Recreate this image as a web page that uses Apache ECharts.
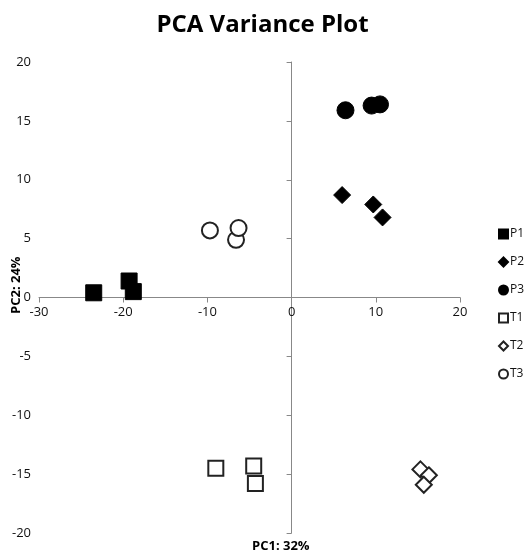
<!DOCTYPE html>
<html>
<head>
<meta charset="utf-8">
<script src="https://cdn.jsdelivr.net/npm/echarts@6/dist/echarts.min.js"></script>
<style>
  html, body { margin: 0; padding: 0; background: #fff; }
</style>
</head>
<body>
<div id="main" style="width: 525px; height: 559px"></div>
<script>
// PCA scores, [PC1, PC2]
const p1 = [[-23.5, 0.4], [-19.3, 1.4], [-18.8, 0.5]]
const p2 = [[6.0, 8.7], [9.7, 7.9], [10.8, 6.8]]
const p3 = [[6.4, 15.9], [9.5, 16.3], [10.5, 16.4]]
const t1 = [[-9.0, -14.5], [-4.5, -14.3], [-4.3, -15.8]]
const t2 = [[15.3, -14.6], [16.3, -15.1], [15.7, -15.9]]
const t3 = [[-9.7, 5.7], [-6.6, 4.9], [-6.3, 5.9]]

const seriesNames = ['P1', 'P2', 'P3', 'T1', 'T2', 'T3']
const seriesData = [p1, p2, p3, t1, t2, t3]

const xMin = -30, xMax = 20, xStep = 10
const yMin = -20, yMax = 20, yStep = 5

const symbols = ['rect', 'diamond', 'circle', 'rect', 'diamond', 'circle']
const sizes = [16, 17, 17, 15, 16, 16]
const filled = [true, true, true, false, false, false]

const chartDom = document.getElementById('main')
const myChart = echarts.init(chartDom)

const grid = { left: 39, right: 65, top: 62, bottom: 26 }
// the x axis sits on y = 0: move it up from the grid bottom
const plotH = 559 - grid.top - grid.bottom
const xAxisOffset = -plotH * (0 - yMin) / (yMax - yMin)

const axisCommon = {
  type: 'value',
  splitLine: { show: false },
  axisTick: { show: true, length: 5, lineStyle: { color: '#888' } },
  axisLabel: { color: '#111', fontSize: 13, fontFamily: 'Open Sans' }
}

const option = {
  animation: false,
  title: {
    text: 'PCA Variance Plot',
    left: 'center',
    top: 8,
    textStyle: { fontFamily: 'Open Sans', fontWeight: 'bold', fontSize: 24, color: '#000' }
  },
  grid: grid,
  legend: {
    orient: 'vertical',
    left: 493,
    top: 223,
    itemGap: 16,
    itemWidth: 9,
    itemHeight: 9,
    textStyle: { fontFamily: 'Open Sans', fontSize: 12, color: '#111', padding: [0, 0, 0, -3] },
    data: seriesNames
  },
  xAxis: Object.assign({}, axisCommon, {
    min: xMin, max: xMax, interval: xStep,
    position: 'bottom',
    offset: xAxisOffset,
    axisLine: { onZero: false, lineStyle: { color: '#888', width: 1 } }
  }),
  yAxis: Object.assign({}, axisCommon, {
    min: yMin, max: yMax, interval: yStep,
    axisLine: { onZero: true, lineStyle: { color: '#888', width: 1 } }
  }),
  graphic: [
    {
      type: 'text',
      left: 252,
      top: 540,
      style: { text: 'PC1: 32%', font: 'bold 13px "Open Sans"', fill: '#000' }
    },
    {
      type: 'text',
      x: 10,
      y: 314,
      rotation: Math.PI / 2,
      style: { text: 'PC2: 24%', font: 'bold 13px "Open Sans"', fill: '#000' }
    }
  ],
  series: seriesNames.map((name, i) => ({
    name: name,
    type: 'scatter',
    symbol: symbols[i],
    symbolSize: sizes[i],
    itemStyle: filled[i]
      ? { color: '#000', borderColor: '#000', borderWidth: 1, opacity: 1 }
      : { color: '#fff', borderColor: '#222', borderWidth: 2, opacity: 1 },
    data: seriesData[i]
  }))
}

option && myChart.setOption(option)
</script>
</body>
</html>
